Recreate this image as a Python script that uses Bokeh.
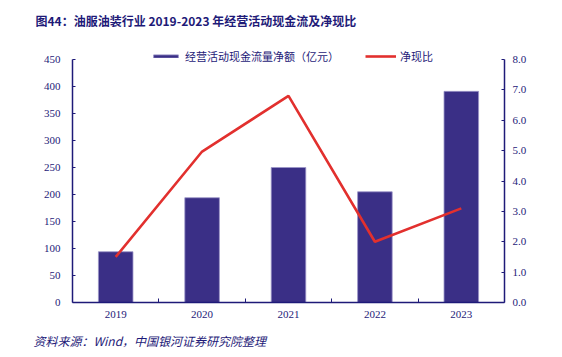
from bokeh.plotting import figure
from bokeh.layouts import column, row
from bokeh.models import (Range1d, LinearAxis, FixedTicker, Legend, LegendItem,
                          ColumnDataSource, NumeralTickFormatter)
from bokeh.embed import file_html
from bokeh.resources import INLINE

years = ["2019", "2020", "2021", "2022", "2023"]
cash_flow = [94, 194, 250, 205, 391]       # 经营活动现金流量净额（亿元）
net_ratio = [1.5, 4.97, 6.8, 2.0, 3.1]      # 净现比
left_ticks = [0, 50, 100, 150, 200, 250, 300, 350, 400, 450]
right_ticks = [0, 1, 2, 3, 4, 5, 6, 7, 8]

title_text = "图44：油服油装行业 2019-2023 年经营活动现金流及净现比"
source_text = "资料来源：Wind，中国银河证券研究院整理"
bar_name = "经营活动现金流量净额（亿元）"
line_name = "净现比"

NAVY = "#1E1A78"
BAR = "#3A2F86"
RED = "#E2302E"
FONT = "'Liberation Serif', 'Times New Roman', 'Noto Sans CJK SC'"
CJK = "'Noto Sans CJK SC'"
W = 562


def strip(h, left=0, right=0, fill="white"):
    f = figure(width=W, height=h, output_backend="svg", toolbar_location=None,
               x_range=Range1d(left, W - right), y_range=Range1d(0, h),
               min_border_left=left, min_border_right=right,
               min_border_top=0, min_border_bottom=0,
               x_axis_location=None, y_axis_location=None)
    f.outline_line_color = None
    f.grid.visible = False
    f.border_fill_color = "white"
    f.background_fill_color = fill
    return f


# ---- title strip: canvas y 0..27 ----
t = strip(27)
t.text(x=[35], y=[7], text=[title_text], text_font={"value": CJK}, text_font_size="12px",
       text_font_style="bold", text_color=NAVY, text_baseline="middle")

# ---- top rule: canvas y 27..29 ----
rule_top = strip(2, left=25, right=10, fill=NAVY)

# ---- main chart: canvas y 29..327, frame 33..302 ----
idx = list(range(len(years)))
src = ColumnDataSource(dict(x=idx, cash=cash_flow, ratio=net_ratio))

MT = 4
MB = 25
FH = 269
MH = MT + FH + MB
px_per = 243 / 450
p = figure(width=W, height=MH, output_backend="svg", toolbar_location=None,
           x_range=Range1d(-0.5, len(years) - 0.5), y_range=Range1d(0, FH / px_per),
           min_border_left=72, min_border_right=58, min_border_top=MT, min_border_bottom=MB,
           x_axis_location=None, y_axis_location=None)
p.outline_line_color = None
p.grid.visible = False
p.border_fill_color = "white"
p.extra_y_ranges = {"r": Range1d(0, 8 * FH / 243)}


def style(ax):
    ax.axis_line_color = NAVY
    ax.axis_line_width = 1.5
    ax.major_tick_line_color = NAVY
    ax.minor_tick_line_color = NAVY
    ax.major_label_text_color = NAVY
    ax.major_label_text_font = FONT
    ax.major_label_text_font_size = "11px"
    ax.major_tick_out = 0
    ax.major_tick_in = 3
    ax.minor_tick_out = 0
    ax.minor_tick_in = 0


xa = LinearAxis(ticker=FixedTicker(ticks=idx, minor_ticks=[i + 0.5 for i in idx[:-1]]))
style(xa)
xa.major_tick_in = 0
xa.minor_tick_in = 4
xa.major_label_overrides = {i: y for i, y in zip(idx, years)}
xa.major_label_standoff = 8
p.add_layout(xa, "below")

ya = LinearAxis(ticker=FixedTicker(ticks=left_ticks), bounds=(0, 450))
style(ya)
ya.major_label_standoff = 12
p.add_layout(ya, "left")

yr = LinearAxis(y_range_name="r", ticker=FixedTicker(ticks=right_ticks), bounds=(0, 8),
                formatter=NumeralTickFormatter(format="0.0"))
style(yr)
yr.major_label_standoff = 8
p.add_layout(yr, "right")

bars = p.vbar(x="x", top="cash", width=0.4, source=src, fill_color=BAR,
              line_color="#9A94C8", line_width=0.8)
ln = p.line(x="x", y="ratio", source=src, y_range_name="r", line_color=RED, line_width=2.6)

leg = Legend(items=[LegendItem(label=bar_name, renderers=[bars]),
                    LegendItem(label=line_name, renderers=[ln])],
             orientation="horizontal", location=(78, 238),
             glyph_width=31, glyph_height=4, label_standoff=4, spacing=26,
             padding=0, margin=0, border_line_color=None, background_fill_alpha=0,
             label_text_font=CJK, label_text_font_size="11px", label_text_color=NAVY)
p.add_layout(leg, "center")

# ---- bottom rule: canvas y 327..329 ----
rule_bottom = strip(2, left=26, right=10, fill=NAVY)

# ---- source strip: canvas y 329..357 ----
s = strip(28)
s.text(x=[33], y=[17], text=[source_text], text_font={"value": CJK}, text_font_size="12px",
       text_font_style="italic", text_color=NAVY, text_baseline="middle")

layout = column(row(t), row(rule_top), p, row(rule_bottom), row(s), spacing=0)
open("out.html", "w").write(file_html(layout, INLINE))
